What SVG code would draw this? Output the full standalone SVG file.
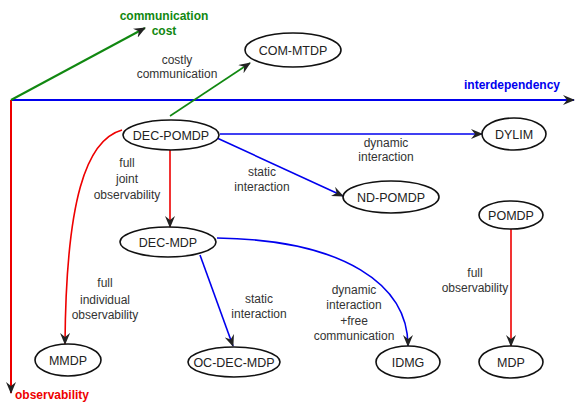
<svg xmlns="http://www.w3.org/2000/svg" width="575" height="403" viewBox="0 0 575 403">
<style>
.n ellipse{fill:#fff;stroke:#111;stroke-width:1.6}
.n text{font-family:"Liberation Sans",Arial,sans-serif;font-size:12.5px;fill:#222;text-anchor:middle}
.lb{font-family:"Liberation Sans",Arial,sans-serif;font-size:12px;fill:#333;text-anchor:middle}
.ax{font-family:"Liberation Sans",Arial,sans-serif;font-size:12px;font-weight:bold}
.e{fill:none;stroke-width:1.6;marker-end:url(#ah)}
.axl{fill:none;stroke-width:2;marker-end:url(#ah)}
</style>
<defs>
<marker id="ah" viewBox="0 0 12 10" refX="11" refY="5" markerWidth="12" markerHeight="10" markerUnits="userSpaceOnUse" orient="auto">
<path d="M0,0 L12,5 L0,10 L4,5 z" fill="#222"/>
</marker>
</defs>
<g id="axes">
<path class="axl" d="M11,100 L574,100" stroke="#0000ee"/>
<path class="axl" d="M11,100 L11,393" stroke="#ee0000"/>
<path class="axl" d="M11,100 L145,28" stroke="#118811"/>
<text class="ax" x="164" y="20" fill="#118811" text-anchor="middle">communication</text>
<text class="ax" x="164" y="35" fill="#118811" text-anchor="middle">cost</text>
<text class="ax" x="512" y="89" fill="#0000ee" text-anchor="middle">interdependency</text>
<text class="ax" x="15" y="399" fill="#ee0000">observability</text>
</g>
<g id="connectors">
<path class="e" d="M170,116 L250,63" stroke="#118811"/>
<path class="e" d="M220,134 L482,134" stroke="#0000ee"/>
<path class="e" d="M217,138 L343,196" stroke="#0000ee"/>
<path class="e" d="M170,150 L170,227" stroke="#ee0000"/>
<path class="e" d="M122,130 C86,140 66,200 65,344" stroke="#ee0000"/>
<path class="e" d="M200,255 L233,346" stroke="#0000ee"/>
<path class="e" d="M217,238 C345,240 408,285 408,346" stroke="#0000ee"/>
<path class="e" d="M511,229 L511,346" stroke="#ee0000"/>
<text class="lb" x="177" y="64">costly</text>
<text class="lb" x="177" y="78">communication</text>
<text class="lb" x="127" y="167">full</text>
<text class="lb" x="127" y="183">joint</text>
<text class="lb" x="127" y="199">observability</text>
<text class="lb" x="262" y="176">static</text>
<text class="lb" x="262" y="191">interaction</text>
<text class="lb" x="386" y="147">dynamic</text>
<text class="lb" x="386" y="161">interaction</text>
<text class="lb" x="105" y="287">full</text>
<text class="lb" x="105" y="304">individual</text>
<text class="lb" x="105" y="319">observability</text>
<text class="lb" x="259" y="303">static</text>
<text class="lb" x="259" y="318">interaction</text>
<text class="lb" x="354" y="294">dynamic</text>
<text class="lb" x="354" y="309">interaction</text>
<text class="lb" x="354" y="325">+free</text>
<text class="lb" x="354" y="340">communication</text>
<text class="lb" x="475" y="277">full</text>
<text class="lb" x="475" y="292">observability</text>
</g>
<g id="COM-MTDP" class="n"><ellipse cx="293" cy="50" rx="48" ry="17"/><text x="293" y="55">COM-MTDP</text></g>
<g id="DEC-POMDP" class="n"><ellipse cx="171" cy="135" rx="48" ry="15"/><text x="171" y="140">DEC-POMDP</text></g>
<g id="DYLIM" class="n"><ellipse cx="514" cy="134" rx="32" ry="16"/><text x="514" y="139">DYLIM</text></g>
<g id="ND-POMDP" class="n"><ellipse cx="391" cy="197" rx="48" ry="16"/><text x="391" y="202">ND-POMDP</text></g>
<g id="POMDP" class="n"><ellipse cx="511" cy="215" rx="32" ry="14"/><text x="511" y="220">POMDP</text></g>
<g id="DEC-MDP" class="n"><ellipse cx="168" cy="242" rx="48" ry="15"/><text x="168" y="247">DEC-MDP</text></g>
<g id="MMDP" class="n"><ellipse cx="68" cy="360" rx="33" ry="16"/><text x="68" y="365">MMDP</text></g>
<g id="OC-DEC-MDP" class="n"><ellipse cx="234" cy="362" rx="46" ry="15"/><text x="234" y="367">OC-DEC-MDP</text></g>
<g id="IDMG" class="n"><ellipse cx="408" cy="362" rx="32" ry="16"/><text x="408" y="367">IDMG</text></g>
<g id="MDP" class="n"><ellipse cx="511" cy="362" rx="32" ry="16"/><text x="511" y="367">MDP</text></g>
</svg>
